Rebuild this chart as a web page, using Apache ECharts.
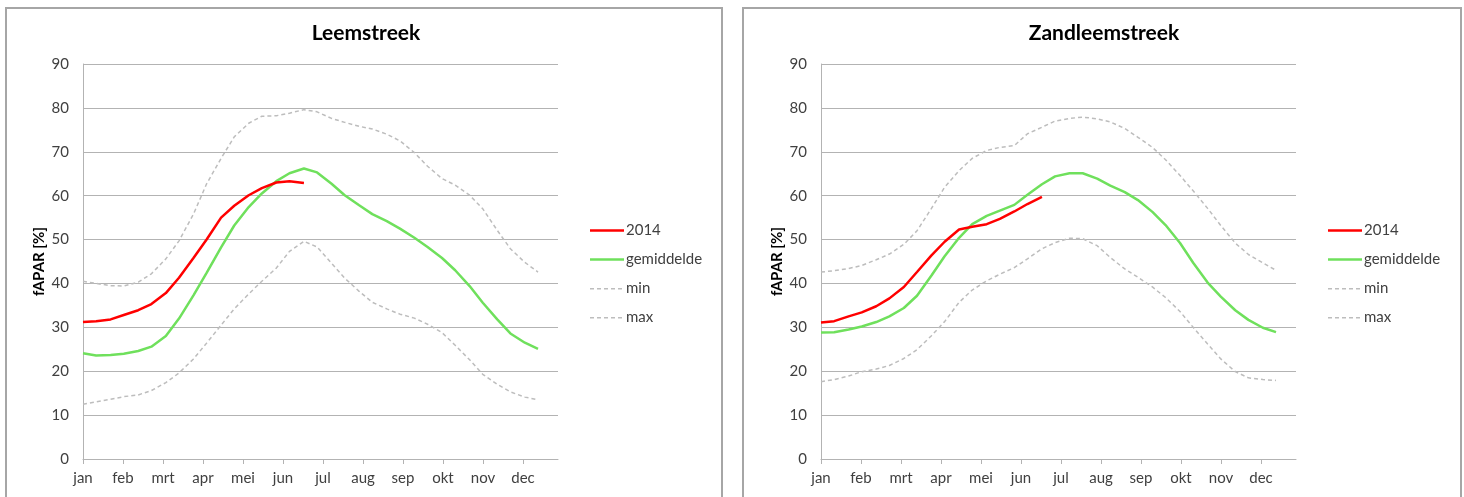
<!DOCTYPE html>
<html>
<head>
<meta charset="utf-8">
<script src="https://cdn.jsdelivr.net/npm/echarts@6/dist/echarts.min.js"></script>
<style>
html,body{margin:0;padding:0;background:#fff;}
#c{width:1464px;height:497px;}
</style>
</head>
<body>
<div id="c"></div>
<script>
const monthLabels = ['jan','feb','mrt','apr','mei','jun','jul','aug','sep','okt','nov','dec'];
const legendNames = ['2014','gemiddelde','min','max'];
const panelTitles = ['Leemstreek','Zandleemstreek'];
const yAxisName = 'fAPAR [%]';
// day of year of each observation
const days = [0,10,21,31,42,52,63,73,84,94,105,115,126,136,147,157,168,178,189,199,210,220,231,241,252,262,273,283,294,304,315,325,336,346];

// Leemstreek
const leemRed   = [31.2,31.4,31.8,32.8,33.9,35.3,37.8,41.3,45.8,50.0,55.0,57.7,60.1,61.7,63.0,63.3,62.9];
const leemGreen = [24.1,23.6,23.7,24.0,24.6,25.6,28.0,32.0,37.3,42.4,48.2,53.2,57.4,60.5,63.3,65.1,66.2,65.3,62.7,60.1,57.8,55.8,54.2,52.5,50.4,48.3,45.8,43.0,39.4,35.6,31.8,28.6,26.5,25.1];
const leemMin   = [12.5,13.0,13.6,14.2,14.6,15.6,17.4,19.6,22.8,26.4,30.5,34.2,37.6,40.5,43.5,47.3,49.6,48.3,44.6,41.2,38.2,35.7,34.2,33.0,32.1,30.7,28.8,25.9,22.6,19.3,17.0,15.3,14.1,13.5];
const leemMax   = [40.5,40.0,39.5,39.4,40.3,42.2,45.6,49.7,55.8,62.7,68.5,73.4,76.5,78.1,78.2,78.8,79.6,79.1,77.6,76.7,75.8,75.2,74.0,72.5,69.8,66.7,63.9,62.4,60.1,57.0,52.1,47.9,44.8,42.6];

// Zandleemstreek
const zandRed   = [31.1,31.4,32.5,33.4,34.8,36.6,39.2,42.6,46.4,49.5,52.3,52.9,53.5,54.7,56.4,58.1,59.7];
const zandGreen = [28.8,28.9,29.5,30.2,31.2,32.5,34.4,37.2,41.8,46.2,50.4,53.5,55.4,56.6,57.9,60.2,62.6,64.4,65.1,65.1,63.9,62.3,60.8,59.0,56.3,53.3,49.2,44.7,40.2,37.0,33.9,31.7,29.9,28.9];
const zandMin   = [17.6,18.1,18.9,19.9,20.5,21.3,22.9,24.9,28.1,31.3,35.7,38.5,40.6,42.1,43.6,45.6,47.9,49.3,50.3,50.2,48.6,45.9,43.3,41.4,39.2,36.8,33.6,30.0,26.2,22.8,19.9,18.5,18.1,17.9];
const zandMax   = [42.6,42.9,43.4,44.1,45.4,46.7,48.9,52.0,57.1,61.9,65.7,68.5,70.3,71.0,71.4,74.1,75.6,77.0,77.6,77.9,77.5,76.8,75.3,73.3,71.0,68.2,64.6,61.1,57.1,53.2,49.2,46.6,44.7,43.0];

const FONT = 'Lato, "Open Sans", sans-serif';
const toPairs = vals => vals.map((v, i) => [days[i] * 12 / 365, v]);

const SOLID_ICON = 'path://M0,6 L34,6 L34,8.5 L0,8.5 Z';
const DASH_ICON = 'path://M0,6.5h4v1.5h-4z M7,6.5h4v1.5h-4z M14,6.5h4v1.5h-4z M21,6.5h4v1.5h-4z M28,6.5h4v1.5h-4z M0,0h0.01v14h-0.01z M33.99,0h0.01v14h-0.01z';

const panels = [
  {title: panelTitles[0], red: leemRed, green: leemGreen, min: leemMin, max: leemMax, gridLeft: 83, legendLeft: 590, titleX: 366, boxX: 6, boxW: 716},
  {title: panelTitles[1], red: zandRed, green: zandGreen, min: zandMin, max: zandMax, gridLeft: 821, legendLeft: 1328, titleX: 1104, boxX: 743, boxW: 718}
];

const grids = [], xAxes = [], yAxes = [], series = [], legends = [], graphics = [];
panels.forEach((p, k) => {
  grids.push({left: p.gridLeft, top: 64, width: 475, height: 395, containLabel: false});
  xAxes.push({
    type: 'value', gridIndex: k, min: 0, max: 11.875, interval: 1,
    axisLine: {show: true, lineStyle: {color: '#b3b3b3', width: 1}},
    axisTick: {show: true, length: 5, lineStyle: {color: '#b3b3b3'}},
    splitLine: {show: false},
    axisLabel: {
      margin: 12, color: '#404040', fontSize: 15, fontFamily: FONT,
      showMaxLabel: false,
      formatter: v => (Math.abs(v - Math.round(v)) < 1e-6 && monthLabels[Math.round(v)]) || ''
    }
  });
  yAxes.push({
    type: 'value', gridIndex: k, min: 0, max: 90, interval: 10,
    name: yAxisName, nameLocation: 'middle', nameGap: 36,
    nameTextStyle: {fontWeight: 'bold', fontSize: 15, color: '#000', fontFamily: FONT},
    axisLine: {show: true, lineStyle: {color: '#b3b3b3', width: 1}},
    axisTick: {show: false},
    splitLine: {show: true, lineStyle: {color: '#b3b3b3', width: 1}},
    axisLabel: {margin: 14, color: '#404040', fontSize: 15, fontFamily: FONT}
  });
  const mk = (name, data, color, width, dashed, z) => ({
    name, type: 'line', xAxisIndex: k, yAxisIndex: k, data: toPairs(data),
    symbol: 'none', smooth: false, z,
    lineStyle: {color, width, type: dashed ? [4, 3] : 'solid'},
    itemStyle: {color}
  });
  series.push(mk(legendNames[2], p.min, '#bdbdbd', 1.5, true, 1));
  series.push(mk(legendNames[3], p.max, '#bdbdbd', 1.5, true, 1));
  series.push(mk(legendNames[1], p.green, '#6fe05c', 2.5, false, 2));
  series.push(mk(legendNames[0], p.red, '#ff0000', 2.5, false, 3));
  legends.push({
    data: [
      {name: legendNames[0], icon: SOLID_ICON},
      {name: legendNames[1], icon: SOLID_ICON},
      {name: legendNames[2], icon: DASH_ICON},
      {name: legendNames[3], icon: DASH_ICON}
    ],
    orient: 'vertical', left: p.legendLeft, top: 223, padding: 0,
    itemWidth: 34, itemHeight: 14, itemGap: 14,
    textStyle: {color: '#404040', fontSize: 15, fontFamily: FONT, padding: [0,0,0,-3]}
  });
  graphics.push({
    type: 'rect', shape: {x: p.boxX, y: 8, width: p.boxW, height: 520},
    style: {fill: 'none', stroke: '#a6a6a6', lineWidth: 2}, silent: true
  });
  graphics.push({
    type: 'text', x: p.titleX, y: 33,
    style: {text: p.title, font: 'bold 21px ' + FONT, fill: '#000', textAlign: 'center', textVerticalAlign: 'middle'}
  });
});

const chart = echarts.init(document.getElementById('c'));
chart.setOption({
  animation: false,
  backgroundColor: '#fff',
  grid: grids, xAxis: xAxes, yAxis: yAxes, series, legend: legends,
  graphic: graphics
});
</script>
</body>
</html>
